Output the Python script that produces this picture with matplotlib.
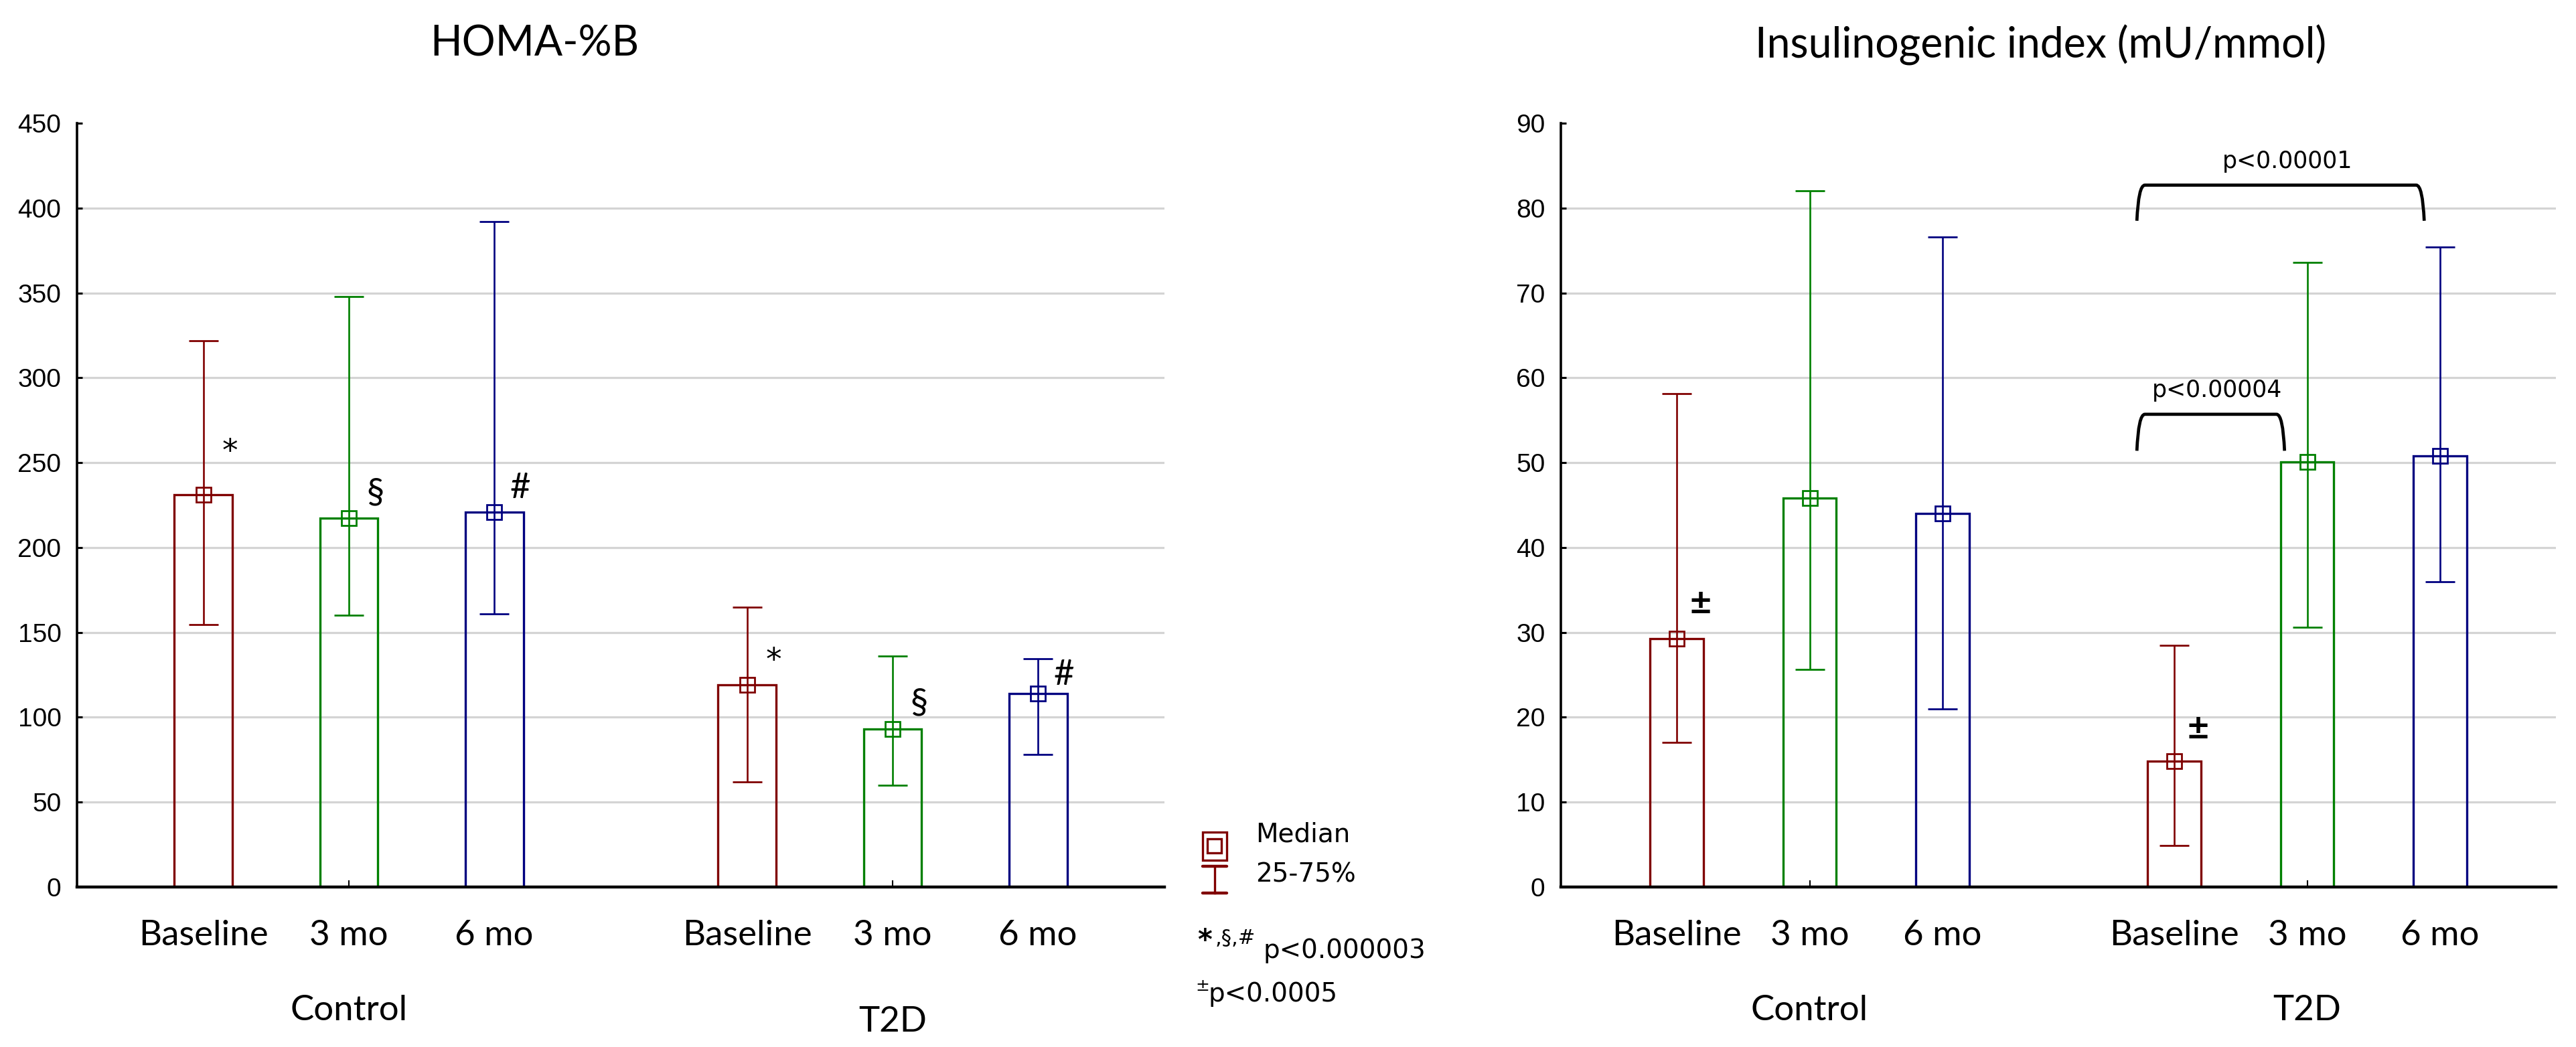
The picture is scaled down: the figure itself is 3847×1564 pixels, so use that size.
import matplotlib.pyplot as plt
import numpy as np
from matplotlib.path import Path
from matplotlib.patches import PathPatch, Rectangle

# data (median, 25th and 75th percentile)
groups = ['Control', 'T2D']
times = ['Baseline', '3 mo', '6 mo']
colors = ['#800000', '#008000', '#000080']

homa_median = [231, 217.5, 221, 119, 93, 114]
homa_q1 = [154.5, 160, 161, 62, 60, 78]
homa_q3 = [322, 348, 392, 165, 136, 134.5]
homa_marks = ['*', '§', '#', '*', '§', '#']
homa_mark_y = [256, 232, 235, 133, 108, 125]

ins_median = [29.3, 45.8, 44.0, 14.8, 50.1, 50.8]
ins_q1 = [17.0, 25.6, 21.0, 4.9, 30.6, 36.0]
ins_q3 = [58.1, 82.0, 76.6, 28.5, 73.6, 75.4]
ins_marks = ['±', '', '', '±', '', '']
ins_mark_y = [33.4, 0, 0, 18.6, 0, 0]

# brackets on the right panel: (x start, x end, top, leg bottom, text)
brackets = [(4.33, 6.49, 82.7, 78.5, 'p<0.00001'),
            (4.33, 5.44, 55.7, 51.4, 'p<0.00004')]

W, H = 3847, 1564
fig = plt.figure(figsize=(W / 100, H / 100), dpi=100)

centers = [1.87, 5.61]
pos = np.concatenate([c + np.array([-1.0, 0.0, 1.0]) for c in centers])
cols = colors * 2
LABEL_FONT = 'Lato'
TICK_FONT = 'Liberation Sans'


def panel(rect, med, q1, q3, ymax, ystep, marks, mark_y, group_drop):
    ax = fig.add_axes(rect)
    ax.set_xlim(0, 7.48)
    ax.set_ylim(0, ymax)
    ticks = np.arange(0, ymax + ystep, ystep)
    ax.set_yticks(ticks)
    ax.hlines(ticks[1:-1], 0, 7.48, color='#d4d4d4', lw=2.3, zorder=0)
    for s in ['top', 'right']:
        ax.spines[s].set_visible(False)
    ax.spines['left'].set_linewidth(2.6)
    ax.spines['bottom'].set_linewidth(3.2)
    ax.tick_params(axis='y', direction='in', length=6, width=2.2, pad=17,
                   labelsize=28)
    for t in ax.get_yticklabels():
        t.set_family(TICK_FONT)
    ax.set_xticks(centers)
    ax.set_xticklabels(['', ''])
    ax.tick_params(axis='x', direction='in', length=7, width=1.5)

    ax.bar(pos, med, width=0.4, fill=False, edgecolor=cols, linewidth=2.4,
           zorder=2)
    for i in range(len(pos)):
        ax.errorbar(pos[i], med[i],
                    yerr=[[med[i] - q1[i]], [q3[i] - med[i]]],
                    fmt='s', mfc='none', mec=cols[i], ms=16, mew=2.0,
                    ecolor=cols[i], elinewidth=1.9, capsize=16, capthick=3.4,
                    zorder=3)
        if marks[i] == '±':
            ax.text(pos[i] + 0.18, mark_y[i], marks[i], ha='center',
                    va='center', fontsize=40, fontweight='bold',
                    family=LABEL_FONT)
        elif marks[i] == '*':
            ax.text(pos[i] + 0.18, mark_y[i], marks[i], ha='center',
                    va='center', fontsize=34, family='DejaVu Sans')
        elif marks[i]:
            ax.text(pos[i] + 0.18, mark_y[i], marks[i], ha='center',
                    va='center', fontsize=38, family=LABEL_FONT)
        ax.annotate(times[i % 3], xy=(pos[i], 0), xytext=(0, -52),
                    textcoords='offset points', ha='center', va='center',
                    fontsize=38, family=LABEL_FONT, annotation_clip=False)
    for g, c in enumerate(centers):
        ax.annotate(groups[g], xy=(c, 0), xytext=(0, -133 - group_drop[g]),
                    textcoords='offset points', ha='center', va='center',
                    fontsize=38, family=LABEL_FONT, annotation_clip=False)
    return ax


ax1 = panel([115 / W, 239 / H, 1624 / W, 1141 / H], homa_median, homa_q1,
            homa_q3, 450, 50, homa_marks, homa_mark_y, [0, 12])
ax2 = panel([2331 / W, 239 / H, 1486 / W, 1141 / H], ins_median, ins_q1,
            ins_q3, 90, 10, ins_marks, ins_mark_y, [0, 0])

for x0, x1, yt, yb, txt in brackets:
    dx = 0.06
    verts = [(x0, yb), (x0 + 0.012, yt), (x0 + dx, yt),
             (x1 - dx, yt), (x1 - 0.012, yt), (x1, yb)]
    codes = [Path.MOVETO, Path.CURVE3, Path.CURVE3,
             Path.LINETO, Path.CURVE3, Path.CURVE3]
    ax2.add_patch(PathPatch(Path(verts, codes), fill=False, lw=3.4,
                            color='black', capstyle='butt', zorder=4))
    ax2.text((x0 + x1) / 2 + 0.05, yt + 2.8, txt, ha='center', va='center',
             fontsize=25, family='DejaVu Sans')

# overlay in pixel coordinates for titles and the legend
ov = fig.add_axes([0, 0, 1, 1], zorder=5)
ov.set_xlim(0, W)
ov.set_ylim(H, 0)
ov.axis('off')
ov.text(798, 65, 'HOMA-%B', ha='center', va='center', fontsize=45,
        family=LABEL_FONT)
ov.text(3048, 67, 'Insulinogenic index (mU/mmol)', ha='center', va='center',
        fontsize=45, family=LABEL_FONT)

red = colors[0]
ov.add_patch(Rectangle((1796, 1243), 36, 42, fill=False, ec=red, lw=2.4))
ov.add_patch(Rectangle((1803, 1253), 21, 21, fill=False, ec=red, lw=2.4))
ov.plot([1814, 1814], [1294, 1334], color=red, lw=2.4)
ov.plot([1796, 1832], [1294, 1294], color=red, lw=3.2, solid_capstyle='round')
ov.plot([1796, 1832], [1334, 1334], color=red, lw=3.2, solid_capstyle='round')
ov.text(1875, 1247, 'Median', ha='left', va='center', fontsize=28,
        family='DejaVu Sans')
ov.text(1875, 1307, '25-75%', ha='left', va='center', fontsize=28,
        family='DejaVu Sans')
ov.text(1788, 1406, '*', ha='left', va='center', fontsize=30,
        family='DejaVu Sans', fontweight='bold')
ov.text(1815, 1402, ',§,#', ha='left', va='center', fontsize=22,
        family='DejaVu Sans')
ov.text(1887, 1420, 'p<0.000003', ha='left', va='center', fontsize=28,
        family='DejaVu Sans')
ov.text(1785, 1473, '±', ha='left', va='center', fontsize=18,
        family='DejaVu Sans')
ov.text(1805, 1485, 'p<0.0005', ha='left', va='center', fontsize=28,
        family='DejaVu Sans')

fig.savefig('out.png', dpi=100)
